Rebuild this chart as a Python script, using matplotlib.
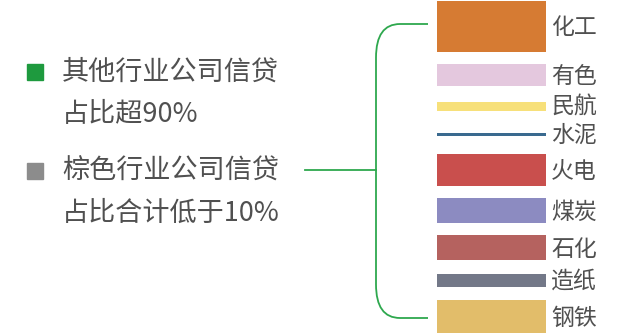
import matplotlib.pyplot as plt
from matplotlib.path import Path
from matplotlib.patches import PathPatch, Rectangle

plt.rcParams['font.family'] = ['Noto Sans CJK SC', 'DejaVu Sans']

# brown industries and their (relative) share of corporate credit
industries = ['化工', '有色', '民航', '水泥', '火电', '煤炭', '石化', '造纸', '钢铁']
shares = [51, 22, 9, 3, 32, 25, 25, 13, 33]
colors = ['#D67B33', '#E4C8DE', '#F7E07A', '#3A6A8F', '#C94F4D',
          '#8C8BC1', '#B5625F', '#737888', '#E2BD6A']

legend_lines = [['其他行业公司信贷', '占比超90%'],
                ['棕色行业公司信贷', '占比合计低于10%']]
legend_colors = ['#1E9A3E', '#8C8C8C']

text_color = '#505050'
green = '#2EA84E'

fig = plt.figure(figsize=(6.27, 3.35), dpi=100)
ax = fig.add_axes([0, 0, 1, 1])
ax.set_xlim(0, 627)
ax.set_ylim(335, 0)
ax.axis('off')

# stack the bars top to bottom, each slot at least 16 high, 12 gap
min_slot, gap = 16, 12
centers = []
pos = 1
prev = None
for v in shares:
    slot = max(v, min_slot)
    if prev is None:
        c = pos + slot / 2
    else:
        c = centers[-1] + (prev + slot) / 2 + gap
    centers.append(c)
    prev = slot

ax.barh(centers, [109] * len(shares), left=437, height=shares, color=colors)
for c, name in zip(centers, industries):
    ax.text(551, c + 1.5, name, fontsize=16.5, color=text_color, va='center',
            ha='left', fontweight='medium')

# left legend
legend_y = [72, 171]
for y, lines, col in zip(legend_y, legend_lines, legend_colors):
    ax.add_patch(Rectangle((27, y - 8), 16, 16, color=col))
    ax.text(62, y, lines[0], fontsize=19.5, color=text_color, va='center',
            ha='left', fontweight='medium')
    ax.text(62, y + 42, lines[1], fontsize=19.5, color=text_color, va='center',
            ha='left', fontweight='medium')

# bracket
top, bot, mid = centers[0] - 2.5, centers[-1] + 1.5, centers[4]
xv, xh = 376, 428
r = 24
verts = [(xh, top), (xv + r, top), (xv, top), (xv, top + r * 1.4),
         (xv, bot - r * 1.4), (xv, bot), (xv + r, bot), (xh, bot)]
codes = [Path.MOVETO, Path.LINETO, Path.CURVE3, Path.CURVE3,
         Path.LINETO, Path.CURVE3, Path.CURVE3, Path.LINETO]
ax.add_patch(PathPatch(Path(verts, codes), fill=False, edgecolor=green, lw=1.3))
ax.plot([305, xv], [mid, mid], color=green, lw=1.3)

fig.savefig('out.png', dpi=100)
